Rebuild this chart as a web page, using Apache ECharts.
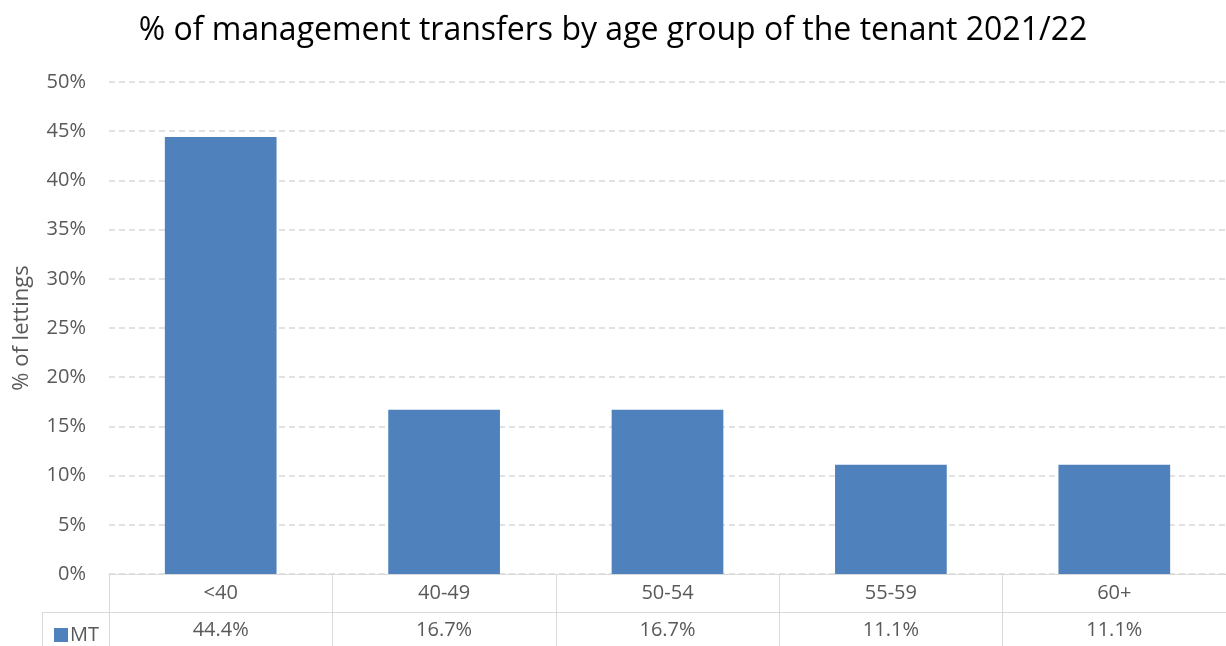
<!DOCTYPE html>
<html>
<head>
<meta charset="utf-8">
<script src="https://cdn.jsdelivr.net/npm/echarts@6/dist/echarts.min.js"></script>
<style>
  html, body { margin: 0; padding: 0; background: #fff; }
  #chart { width: 1226px; height: 646px; }
</style>
</head>
<body>
<div id="chart"></div>
<script>
var categories = ['<40', '40-49', '50-54', '55-59', '60+'];
var mtValues = [44.4, 16.7, 16.7, 11.1, 11.1];
var seriesName = 'MT';

var chartDom = document.getElementById('chart');
var myChart = echarts.init(chartDom);
var option;

var font = 'Open Sans';
var grey = '#595959';
var lineGrey = '#d9d9d9';

option = {
    animation: false,
    textStyle: { fontFamily: font },
    title: {
        text: '% of management transfers by age group of the tenant 2021/22',
        left: 'center',
        top: 10,
        textStyle: { fontFamily: font, fontSize: 32, fontWeight: 'normal', color: '#000' }
    },
    legend: {
        data: [seriesName],
        left: 49,
        top: 620,
        icon: 'rect',
        itemWidth: 14,
        itemHeight: 14,
        itemGap: 4,
        textStyle: { fontFamily: font, fontSize: 20, color: grey, padding: [0, 0, 0, -3] }
    },
    grid: { left: 109, right: 0, top: 82, bottom: 72 },
    xAxis: [
        {
            type: 'category',
            data: categories,
            position: 'bottom',
            axisLine: { lineStyle: { color: lineGrey } },
            axisTick: { show: true, length: 38, lineStyle: { color: lineGrey } },
            axisLabel: { fontSize: 20, color: grey, margin: 9 }
        },
        {
            type: 'category',
            data: mtValues.map(function (v) { return v.toFixed(1) + '%'; }),
            position: 'bottom',
            offset: 38,
            axisLine: { show: true, lineStyle: { color: lineGrey } },
            axisTick: { show: true, length: 34, lineStyle: { color: lineGrey } },
            axisLabel: { fontSize: 20, color: grey, margin: 8 }
        }
    ],
    yAxis: {
        type: 'value',
        min: 0,
        max: 50,
        interval: 5,
        name: '% of lettings',
        nameLocation: 'middle',
        nameGap: 76,
        nameTextStyle: { fontFamily: font, fontSize: 22, color: grey },
        axisLine: { show: false },
        axisTick: { show: false },
        axisLabel: { formatter: '{value}%', fontSize: 20, color: grey, margin: 23 },
        splitLine: { lineStyle: { color: lineGrey, type: [6, 4], width: 1.5 } }
    },
    graphic: [
        { type: 'line', shape: { x1: 42, y1: 612.5, x2: 109, y2: 612.5 }, style: { stroke: lineGrey, lineWidth: 1 } },
        { type: 'line', shape: { x1: 42.5, y1: 612, x2: 42.5, y2: 646 }, style: { stroke: lineGrey, lineWidth: 1 } }
    ],
    series: [
        {
            name: seriesName,
            type: 'bar',
            xAxisIndex: 0,
            data: mtValues,
            barWidth: '50%',
            itemStyle: { color: '#4F81BD' }
        }
    ]
};

option && myChart.setOption(option);
</script>
</body>
</html>
